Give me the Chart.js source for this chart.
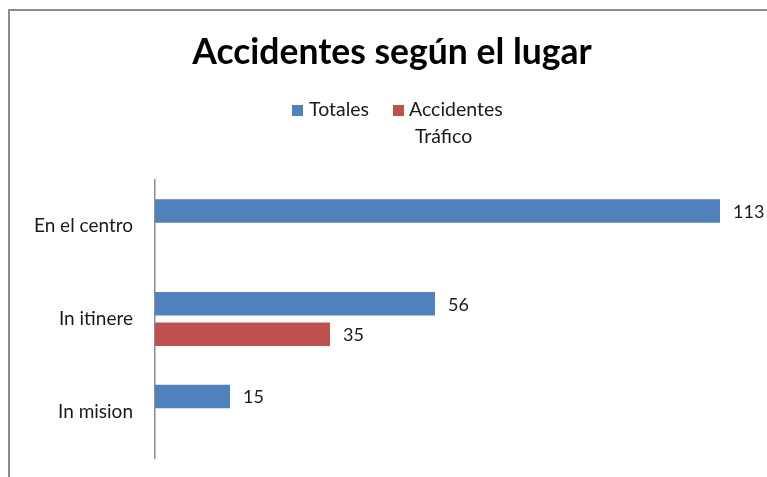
<!DOCTYPE html>
<html>
<head>
<meta charset="utf-8">
<script src="https://cdn.jsdelivr.net/npm/chart.js@4"></script>
<style>
    body { margin: 0; background: #fff; }
    #wrap { position: relative; width: 767px; height: 477px; overflow: hidden; }
    #frame {
        position: absolute; left: 8px; top: 9px; width: 900px; height: 600px;
        border-left: 2px solid #8c8c8c; border-top: 2px solid #8c8c8c;
    }
    canvas { position: absolute; left: 0; top: 0; }
    .legend { position: absolute; font-family: Lato, sans-serif; font-size: 19.5px; color: #1a1a1a; line-height: 27px; }
    .box { position: absolute; width: 11px; height: 11px; }
</style>
</head>
<body>
<div id="wrap">
    <div id="frame"></div>
    <canvas id="chart" width="767" height="477"></canvas>
    <div class="box" style="left:292px; top:105px; background:#4f81bd;"></div>
    <div class="legend" style="left:309px; top:95px;">Totales</div>
    <div class="box" style="left:393px; top:105px; background:#c0504d;"></div>
    <div class="legend" style="left:409px; top:95px;">Accidentes</div>
    <div class="legend" style="left:415px; top:122px;">Tráfico</div>
</div>
<script>
    const categories = ["En el centro", "In itinere", "In mision"];
    const totales = [113, 56, 15];
    const trafico = [null, 35, null];
    const seriesNames = ["Totales", "Accidentes Tráfico"];

    const valueLabels = {
        id: "valueLabels",
        afterDatasetsDraw(chart) {
            const ctx = chart.ctx;
            ctx.save();
            ctx.font = "18px Lato, sans-serif";
            ctx.fillStyle = "#1a1a1a";
            ctx.textAlign = "left";
            ctx.textBaseline = "middle";
            chart.data.datasets.forEach((ds, i) => {
                chart.getDatasetMeta(i).data.forEach((bar, j) => {
                    if (ds.data[j] == null) return;
                    ctx.fillText(ds.data[j], bar.x + 13, bar.y + 1);
                });
            });
            ctx.restore();
        }
    };

    new Chart(document.getElementById("chart"), {
        type: "bar",
        data: {
            labels: categories,
            datasets: [
                { label: seriesNames[0], data: totales, backgroundColor: "#4f81bd" },
                { label: seriesNames[1], data: trafico, backgroundColor: "#c0504d" }
            ]
        },
        options: {
            indexAxis: "y",
            responsive: false,
            animation: false,
            datasets: { bar: { categoryPercentage: 0.658, barPercentage: 0.77 } },
            layout: { padding: { left: 29, right: 12, top: 0, bottom: 19 } },
            plugins: {
                legend: { display: false },
                tooltip: { enabled: false },
                title: {
                    display: true,
                    text: "Accidentes según el lugar",
                    color: "#000",
                    font: { family: "Lato, sans-serif", size: 35.5, weight: "bold" },
                    padding: { top: 31.5, bottom: 105.9 }
                }
            },
            scales: {
                x: { display: false, min: 0, max: 120 },
                y: {
                    grid: { display: false, drawTicks: false },
                    border: { display: true, color: "#8c8c8c", width: 1.5 },
                    ticks: { color: "#1a1a1a", padding: 22, font: { family: "Lato, sans-serif", size: 19 } },
                    afterFit(scale) {
                        scale.width = 126;
                        scale.paddingTop = 0;
                        scale.paddingBottom = 0;
                    }
                }
            }
        },
        plugins: [valueLabels]
    });
</script>
</body>
</html>
